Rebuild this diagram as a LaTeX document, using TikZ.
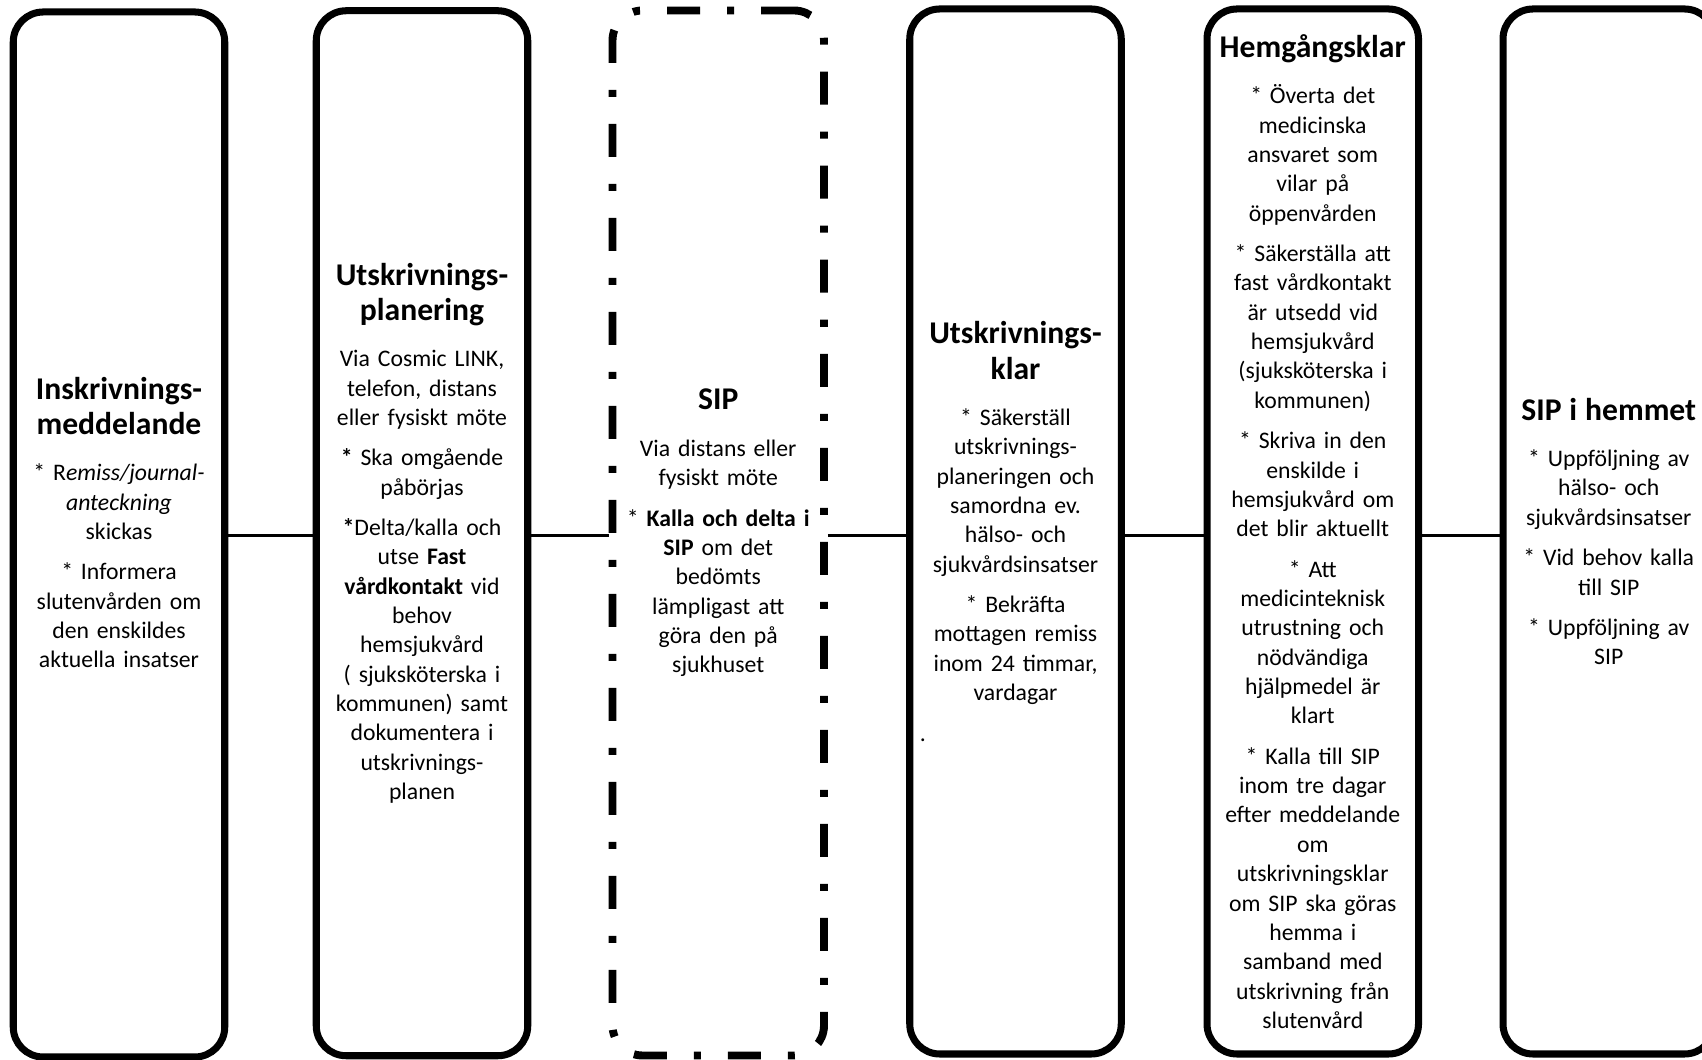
\documentclass[tikz,border=0pt]{standalone}
\usepackage{fontspec}
\setmainfont{Carlito}
\newcommand{\rub}[1]{{\fontsize{18}{20}\selectfont\bfseries #1\par}\vspace{3.4pt}}

\begin{document}
\begin{tikzpicture}[
	box/.style={draw,line width=4pt,rounded corners=0.6cm,minimum width=4.23cm,minimum height=20.9cm,inner sep=0pt,text width=4.23cm,align=center,font=\fontsize{13.5}{16.7}\selectfont\setlength{\parskip}{6.3pt}},
	sipbox/.style={box,line width=4.5pt,dash pattern=on 0.66cm off 0.54cm on 0.14cm off 0.54cm},
	con/.style={line width=1.7pt}]
		\useasboundingbox(0,0)rectangle(34.04,21.2);
		\coordinate(mid)at(17,10.48);
		\node[box](ins)at(2.38,10.51){\rub{Inskrivnings-\\meddelande}
			* R\textit{emiss/journal-}\\\textit{anteckning}\\skickas\par
			* Informera\\slutenvården om\\den enskildes\\aktuella insatser\par\vspace{-9.3pt}\mbox{}};
		\node[box](plan)at(8.44,10.535){\rub{Utskrivnings-\\planering}
			Via Cosmic LINK,\\telefon, distans\\eller fysiskt möte\par
			\textbf{*} Ska omgående\\påbörjas\par
			\textbf{*}Delta/kalla och\\utse \textbf{Fast}\\\textbf{vårdkontakt} vid\\behov\\hemsjukvård\\( sjuksköterska i\\kommunen) samt\\dokumentera i\\utskrivnings-\\planen};
		\node[sipbox](sip)at(14.365,10.54){\rub{SIP}
			Via distans eller\\fysiskt möte\par
			* \textbf{Kalla och delta i}\\\textbf{SIP} om det\\bedömts\\lämpligast att\\göra den på\\sjukhuset};
		\node[box](klar)at(20.31,10.57){\rub{Utskrivnings-\\klar}
			* Säkerställ\\utskrivnings-\\planeringen och\\samordna ev.\\hälso- och\\sjukvårdsinsatser\par
			* Bekräfta\\mottagen remiss\\inom 24 timmar,\\vardagar\par
			\makebox[\hsize][l]{\hspace{0.2cm}.}};
		\node[box](hem)at(26.255,10.57){\rub{Hemgångsklar}
			* Överta det\\medicinska\\ansvaret som\\vilar på\\öppenvården\par
			* Säkerställa att\\fast vårdkontakt\\är utsedd vid\\hemsjukvård\\(sjuksköterska i\\kommunen)\par
			* Skriva in den\\enskilde i\\hemsjukvård om\\det blir aktuellt\par
			* Att\\medicinteknisk\\utrustning och\\nödvändiga\\hjälpmedel är\\klart\par
			* Kalla till SIP\\inom tre dagar\\efter meddelande\\om\\utskrivningsklar\\om SIP ska göras\\hemma i\\samband med\\utskrivning från\\slutenvård};
		\node[box](hemmet)at(32.175,10.57){\rub{SIP i hemmet}
			* Uppföljning av\\hälso- och\\sjukvårdsinsatser\par
			* Vid behov kalla\\till SIP\par
			* Uppföljning av\\SIP};
		\draw[con](ins.east|-mid)--(plan.west|-mid);
		\draw[con](plan.east|-mid)--(sip.west|-mid);
		\draw[con](sip.east|-mid)--(klar.west|-mid);
		\draw[con](klar.east|-mid)--(hem.west|-mid);
		\draw[con](hem.east|-mid)--(hemmet.west|-mid);
	\end{tikzpicture}
\end{document}
